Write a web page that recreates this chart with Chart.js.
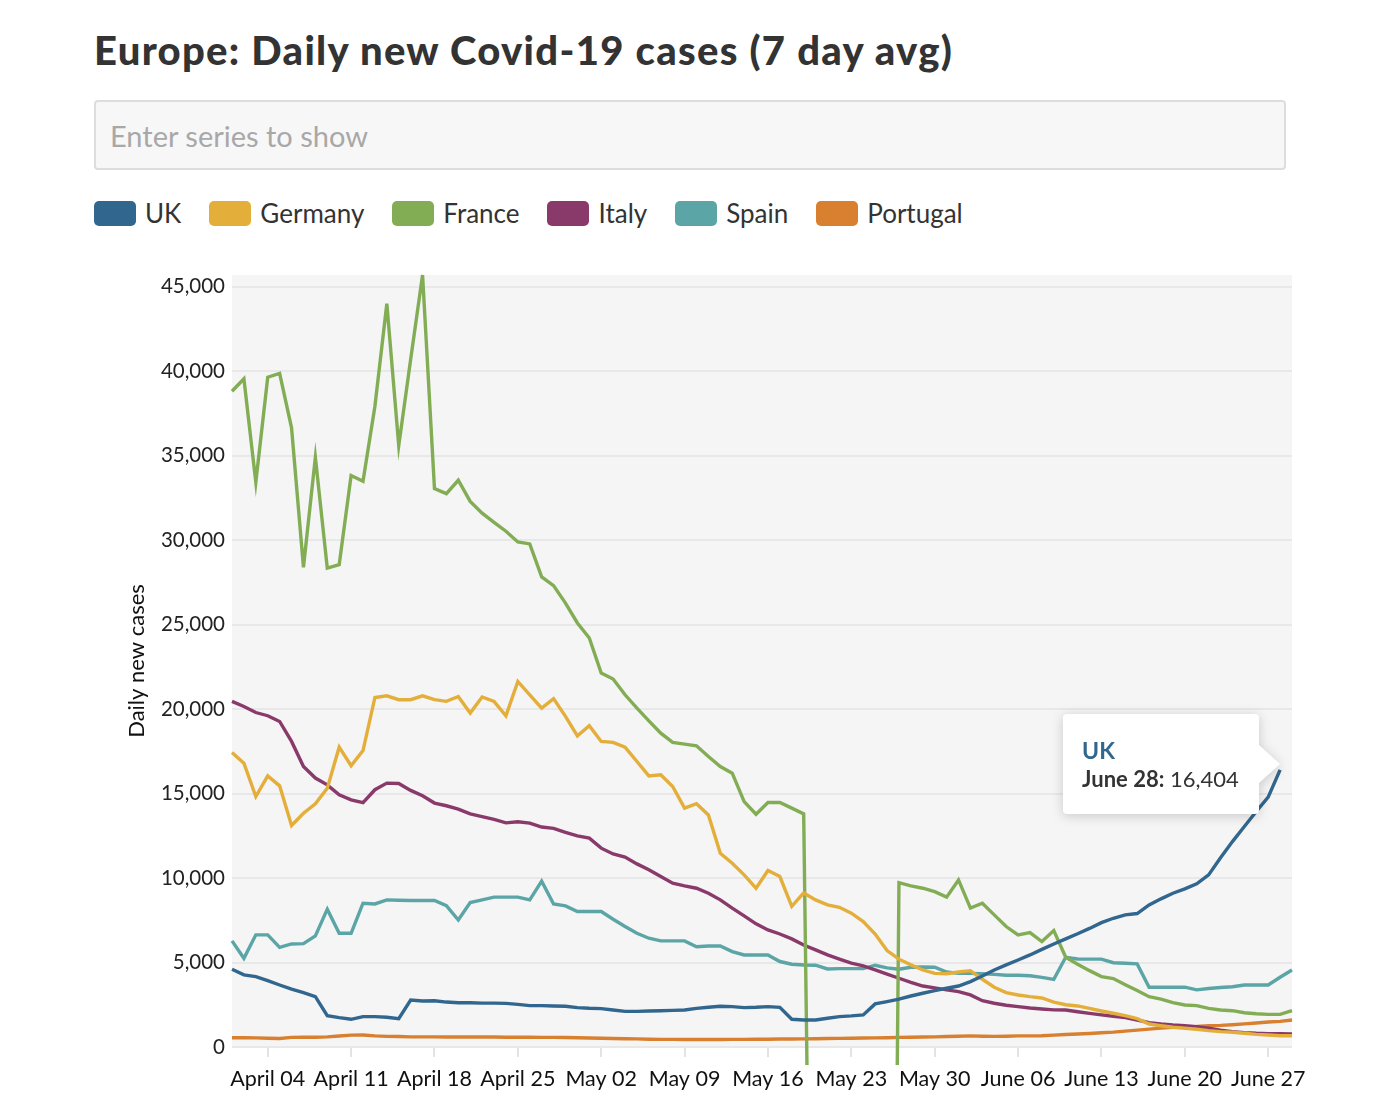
<!DOCTYPE html>
<html>

<head>
    <meta charset="UTF-8" />
    <title>Europe: Daily new Covid-19 cases</title>
    <script src="https://cdn.jsdelivr.net/npm/chart.js"></script>
    <style>
        body { margin: 0; background: #fff; font-family: Lato, sans-serif; color: #333; }
        .pagina { position: relative; width: 1384px; height: 1100px; overflow: hidden; }
        h1 { position: absolute; left: 94px; top: 26px; margin: 0; font-size: 40px; font-weight: 900; letter-spacing: 1.3px; color: #333; white-space: nowrap; }
        .buscador { position: absolute; left: 94px; top: 100px; width: 1192px; height: 70px; box-sizing: border-box;
            border: 2px solid #dddddd; border-radius: 4px; background: #f7f7f7; padding: 0 14px;
            font-family: Lato, sans-serif; font-size: 29px; color: #333; outline: none; }
        .buscador::placeholder { color: #a8a8a8; }
        .leyenda { position: absolute; left: 94px; top: 200px; display: flex; align-items: center; height: 26px; }
        .item { display: flex; align-items: center; margin-right: 28px; font-size: 26px; color: #333; }
        .muestra { width: 42px; height: 25px; border-radius: 5px; margin-right: 9px; }
        .contenedor { position: absolute; left: 94px; top: 240px; width: 1240px; height: 860px; }
        #tooltip { position: absolute; opacity: 0; background: #fff; border-radius: 4px; padding: 22px 20px 20px 19px;
            filter: drop-shadow(0 2px 6px rgba(0,0,0,0.18)); white-space: nowrap; pointer-events: none; }
        #tooltip::after { content: ''; position: absolute; right: -21px; top: 50%; margin-top: -19px;
            border-left: 21px solid #fff; border-top: 19px solid transparent; border-bottom: 19px solid transparent; }
        .tt-titulo { font-weight: 700; font-size: 23px; line-height: 28px; }
        .tt-cuerpo { font-size: 22px; line-height: 30px; color: #333; }
        .tt-fecha { font-weight: 700; }
    </style>
</head>

<body>
    <div class="pagina">
        <h1>Europe: Daily new Covid-19 cases (7 day avg)</h1>
        <input class="buscador" type="text" placeholder="Enter series to show">
        <div class="leyenda" id="leyenda"></div>
        <div class="contenedor">
            <canvas id="graficoCasos"></canvas>
            <div id="tooltip">
                <div class="tt-titulo"></div>
                <div class="tt-cuerpo"><span class="tt-fecha"></span><span class="tt-valor"></span></div>
            </div>
        </div>
    </div>

    <script>
        // Fechas: 1 de abril a 29 de junio
        const meses = ['April', 'May', 'June'];
        const diasPorMes = [30, 31, 29];
        const fechas = [];
        meses.forEach((m, k) => {
            for (let d = 1; d <= diasPorMes[k]; d++) fechas.push(m + ' ' + String(d).padStart(2, '0'));
        });

        const paises = ['UK', 'Germany', 'France', 'Italy', 'Spain', 'Portugal'];
        const colores = ['#31668f', '#e4ae3b', '#82ad55', '#893a6a', '#5ba5a6', '#d8802f'];

        // Casos diarios (media de 7 dias)
        const uk = [4600, 4270, 4170, 3930, 3670, 3420, 3220, 2980, 1860, 1740,
            1640, 1800, 1800, 1760, 1680, 2780, 2720, 2740, 2660, 2620,
            2620, 2600, 2600, 2580, 2520, 2450, 2450, 2430, 2410, 2330,
            2290, 2270, 2190, 2110, 2110, 2130, 2150, 2170, 2190, 2290,
            2350, 2410, 2390, 2330, 2350, 2390, 2350, 1640, 1600, 1600,
            1700, 1800, 1840, 1900, 2550, 2690, 2830, 3020, 3180, 3340,
            3480, 3610, 3870, 4200, 4560, 4860, 5150, 5450, 5780, 6100,
            6400, 6700, 7020, 7360, 7620, 7820, 7900, 8410, 8770, 9100,
            9360, 9660, 10190, 11200, 12160, 13050, 13940, 14790, 16404, null];
        const germany = [17440, 16800, 14830, 16050, 15460, 13110, 13840, 14400, 15320, 17750,
            16650, 17550, 20690, 20790, 20560, 20560, 20790, 20560, 20460, 20750,
            19770, 20720, 20460, 19600, 21640, 20850, 20060, 20620, 19570, 18420,
            19020, 18090, 18030, 17750, 16900, 16050, 16110, 15420, 14140, 14400,
            13740, 11470, 10880, 10190, 9400, 10450, 10090, 8330, 9120, 8710,
            8410, 8270, 7920, 7420, 6690, 5710, 5200, 4860, 4560, 4360,
            4340, 4440, 4520, 4010, 3540, 3220, 3080, 2980, 2900, 2660,
            2500, 2430, 2290, 2130, 2000, 1860, 1680, 1360, 1260, 1170,
            1110, 1050, 970, 910, 870, 810, 750, 710, 670, 670];
        const france = [38820, 39550, 33430, 39650, 39870, 36650, 28400, 34910, 28350, 28550,
            33830, 33490, 37930, 44000, 35600, 40700, 45700, 33060, 32760, 33550,
            32300, 31600, 31060, 30530, 29900, 29780, 27830, 27310, 26280, 25100,
            24210, 22140, 21780, 20850, 20060, 19310, 18580, 18030, 17930, 17830,
            17200, 16600, 16210, 14530, 13780, 14470, 14470, 14140, 13800, -40000,
            -48000, -50000, -52000, -55000, -59000, -66000, 9730, 9540, 9400, 9200,
            8870, 9890, 8220, 8510, 7820, 7130, 6640, 6770, 6240, 6890,
            5310, 4900, 4520, 4170, 4050, 3690, 3340, 2980, 2830, 2630,
            2490, 2450, 2290, 2190, 2150, 2030, 1970, 1930, 1930, 2150];
        const italy = [20460, 20160, 19800, 19610, 19270, 18090, 16600, 15920, 15520, 14930,
            14630, 14470, 15230, 15620, 15600, 15190, 14870, 14440, 14280, 14080,
            13800, 13640, 13480, 13270, 13330, 13250, 13020, 12940, 12700, 12500,
            12360, 11770, 11430, 11240, 10840, 10490, 10090, 9700, 9540, 9400,
            9100, 8710, 8220, 7760, 7290, 6930, 6690, 6400, 6040, 5750,
            5450, 5200, 4960, 4800, 4560, 4320, 4070, 3830, 3610, 3500,
            3380, 3280, 3080, 2740, 2590, 2470, 2390, 2310, 2250, 2200,
            2190, 2090, 1990, 1900, 1820, 1740, 1600, 1440, 1360, 1300,
            1260, 1200, 1110, 1000, 910, 850, 810, 790, 780, 770];
        const spain = [6280, 5250, 6640, 6640, 5900, 6100, 6120, 6580, 8160, 6730,
            6730, 8510, 8470, 8710, 8690, 8670, 8670, 8670, 8370, 7520,
            8550, 8710, 8870, 8870, 8870, 8710, 9820, 8470, 8350, 8020,
            8020, 8020, 7560, 7130, 6730, 6440, 6280, 6280, 6280, 5940,
            5980, 5980, 5650, 5450, 5450, 5450, 5060, 4900, 4850, 4840,
            4620, 4640, 4640, 4640, 4840, 4680, 4600, 4720, 4740, 4720,
            4440, 4360, 4360, 4340, 4300, 4250, 4250, 4220, 4120, 4000,
            5310, 5210, 5200, 5200, 4990, 4960, 4920, 3540, 3540, 3540,
            3540, 3380, 3460, 3520, 3570, 3670, 3670, 3670, 4130, 4560];
        const portugal = [550, 550, 540, 520, 500, 570, 580, 580, 600, 650,
            700, 710, 660, 630, 620, 600, 600, 600, 590, 590,
            590, 600, 590, 580, 580, 580, 570, 570, 560, 550,
            530, 520, 500, 490, 480, 460, 450, 450, 440, 440,
            440, 440, 450, 450, 460, 460, 470, 470, 480, 490,
            500, 510, 520, 530, 540, 550, 570, 580, 590, 600,
            620, 640, 660, 640, 630, 640, 660, 660, 670, 700,
            740, 770, 800, 840, 880, 940, 1000, 1060, 1120, 1170,
            1200, 1220, 1260, 1280, 1320, 1370, 1420, 1480, 1520, 1600];

        const series = [uk, germany, france, italy, spain, portugal];

        const yMax = 45700;
        const yTicks = [0, 5000, 10000, 15000, 20000, 25000, 30000, 35000, 40000, 45000];

        // Leyenda en HTML
        const leyenda = document.getElementById('leyenda');
        paises.forEach((p, i) => {
            const item = document.createElement('div');
            item.className = 'item';
            item.innerHTML = '<span class="muestra" style="background:' + colores[i] + '"></span>' + p;
            leyenda.appendChild(item);
        });

        // Fondo gris solo en el area del grafico
        const fondoArea = {
            id: 'fondoArea',
            beforeDraw(chart) {
                const { ctx, chartArea: a } = chart;
                ctx.save();
                ctx.fillStyle = '#f5f5f5';
                ctx.fillRect(a.left, a.top, a.right - a.left, a.bottom - a.top);
                ctx.restore();
            }
        };

        function tooltipExterno(context) {
            const { chart, tooltip } = context;
            const el = document.getElementById('tooltip');
            if (tooltip.opacity === 0 || !tooltip.dataPoints || !tooltip.dataPoints.length) {
                el.style.opacity = 0;
                return;
            }
            const punto = tooltip.dataPoints[0];
            const fecha = punto.label.replace(/ 0(\d)$/, ' $1');
            el.querySelector('.tt-titulo').textContent = punto.dataset.label;
            el.querySelector('.tt-titulo').style.color = punto.dataset.borderColor;
            el.querySelector('.tt-fecha').textContent = fecha + ':';
            el.querySelector('.tt-valor').textContent = ' ' + punto.parsed.y.toLocaleString('en-US');
            el.style.opacity = 1;
            el.style.left = (chart.canvas.offsetLeft + tooltip.caretX - 21 - el.offsetWidth) + 'px';
            el.style.top = (chart.canvas.offsetTop + tooltip.caretY - 6 - el.offsetHeight / 2) + 'px';
        }

        const esSemana = i => (i - 3) % 7 === 0;

        const ctx = document.getElementById('graficoCasos').getContext('2d');
        const grafico = new Chart(ctx, {
            type: 'line',
            data: {
                labels: fechas,
                datasets: paises.map((p, i) => ({
                    label: p,
                    data: series[i],
                    borderColor: colores[i],
                    backgroundColor: colores[i],
                    borderWidth: 3.4,
                    pointRadius: 0,
                    pointHoverRadius: 0,
                    tension: 0,
                    spanGaps: false,
                    clip: { left: 2, top: 2, right: 2, bottom: 18 }
                }))
            },
            options: {
                responsive: true,
                maintainAspectRatio: false,
                animation: false,
                layout: { padding: { top: 35, right: 42, left: 0, bottom: 0 } },
                plugins: {
                    legend: { display: false },
                    tooltip: { enabled: false, external: tooltipExterno, mode: 'nearest', intersect: false }
                },
                scales: {
                    x: {
                        type: 'category',
                        offset: false,
                        border: { display: false },
                        grid: {
                            drawOnChartArea: false,
                            drawTicks: true,
                            tickLength: 10,
                            lineWidth: 2,
                            color: c => esSemana(c.index) ? '#e3e3e3' : 'rgba(0,0,0,0)'
                        },
                        ticks: {
                            autoSkip: false,
                            maxRotation: 0,
                            minRotation: 0,
                            padding: 9,
                            color: '#111',
                            font: { family: 'Lato', size: 21.5 },
                            callback: (v, i) => esSemana(i) ? fechas[i] : ''
                        },
                        afterFit: s => { s.height = 53; }
                    },
                    y: {
                        min: 0,
                        max: yMax,
                        border: { display: false },
                        grid: { color: '#e8e8e8', lineWidth: 2, drawTicks: false },
                        afterBuildTicks: s => { s.ticks = yTicks.map(v => ({ value: v })); },
                        ticks: {
                            padding: 7,
                            color: '#222',
                            font: { family: 'Lato', size: 20.5 },
                            callback: v => v.toLocaleString('en-US')
                        },
                        title: {
                            display: true,
                            text: 'Daily new cases',
                            color: '#111',
                            font: { family: 'Lato', size: 22 },
                            padding: { top: 30, bottom: 0 }
                        },
                        afterFit: s => { s.width = 138; }
                    }
                }
            },
            plugins: [fondoArea]
        });

        // Mostrar el tooltip del ultimo dato de UK
        grafico.tooltip.setActiveElements([{ datasetIndex: 0, index: 88 }], { x: 0, y: 0 });
        grafico.update();
    </script>
</body>

</html>
